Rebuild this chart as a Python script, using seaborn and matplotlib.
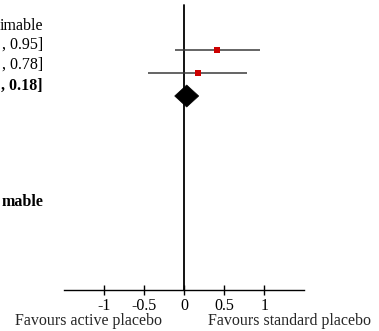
import matplotlib
matplotlib.use("Agg")
import matplotlib.pyplot as plt
import seaborn as sns
import pandas as pd
from matplotlib.patches import Polygon

# ---- data ----
# left-hand column text, as visible in the (cropped) reference
study_labels = ["imable", ", 0.95]", ", 0.78]", ", 0.18]", "mable"]
label_bold = [False, False, False, True, True]
study_est = [0.41, 0.17]
study_lo = [-0.12, -0.45]
study_hi = [0.95, 0.78]
pooled_est = 0.03
pooled_lo = -0.12
pooled_hi = 0.18
tick_values = [-1, -0.5, 0, 0.5, 1]
tick_labels = ["-1", "-0.5", "0", "0.5", "1"]
favours_left = "Favours active placebo"
favours_right = "Favours standard placebo"

sns.set_theme(style="white")
plt.rcParams['font.family'] = ['Liberation Serif', 'DejaVu Serif']

W, H, DPI = 379, 331, 100
fig = plt.figure(figsize=(W / DPI, H / DPI), dpi=DPI)
ax = fig.add_axes([0, 0, 1, 1])
x0_px, unit_px = 184.3, 80.0
ax.set_xlim(-x0_px / unit_px, (W - x0_px) / unit_px)
ax.set_ylim(H, 0)
ax.set_facecolor("white")

# layout (pixel rows from top)
study_rows = [50, 72.7]
pooled_row = 96
text_rows = [25.5, 44.5, 65, 86, 202]
axis_row = 290

# zero line
ax.plot([0, 0], [5, axis_row], color="black", lw=1.3, zorder=2)

# CI lines
ax.hlines(study_rows, study_lo, study_hi, color="#3a3a3a", lw=1.1, zorder=3)
df = pd.DataFrame({"est": study_est, "row": study_rows})
sns.scatterplot(data=df, x="est", y="row", marker="s", s=16, color="#cc0000",
                edgecolor="#cc0000", linewidth=0, ax=ax, zorder=4, legend=False)

# pooled diamond
hh = 11
ax.add_patch(Polygon([[pooled_lo, pooled_row], [pooled_est, pooled_row - hh],
                      [pooled_hi, pooled_row], [pooled_est, pooled_row + hh]],
                     closed=True, facecolor="black", edgecolor="black", lw=0.5, zorder=4))

# left text column
text_x = (43.0 - x0_px) / unit_px
for lab, yy, b in zip(study_labels, text_rows, label_bold):
    ax.text(text_x, yy, lab, ha="right", va="center", fontsize=11.5,
            fontweight="bold" if b else "normal", color="black")

# axis
for s in ["left", "right", "top"]:
    ax.spines[s].set_visible(False)
ax.spines["bottom"].set_position(("data", axis_row))
ax.spines["bottom"].set_bounds(-1.5, 1.5)
ax.spines["bottom"].set_color("black")
ax.spines["bottom"].set_linewidth(1.0)
ax.set_xticks(tick_values)
ax.set_xticklabels(tick_labels)
ax.set_yticks([])
ax.tick_params(axis="x", direction="inout", length=6.5, width=1.0, color="black",
               labelsize=11.5, pad=2.5, bottom=True, labelcolor="black")
ax.set_xlabel("")
ax.set_ylabel("")
ax.grid(False)

ax.text((88.5 - x0_px) / unit_px, 321, favours_left, ha="center", va="center", fontsize=11.5)
ax.text((289.5 - x0_px) / unit_px, 321, favours_right, ha="center", va="center", fontsize=11.5)

fig.savefig("out.png", dpi=DPI, facecolor="white")
